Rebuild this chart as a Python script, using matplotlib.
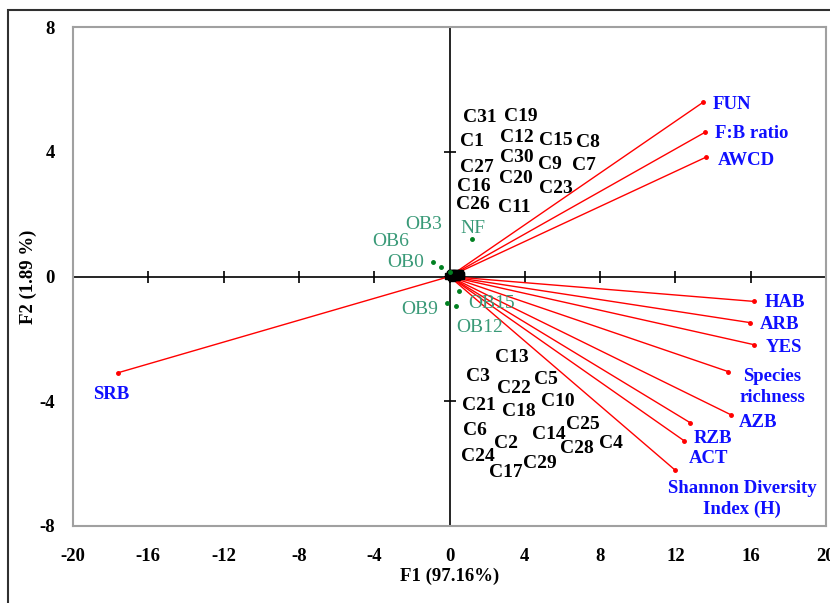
import matplotlib
matplotlib.use("Agg")
import matplotlib.pyplot as plt
from matplotlib.patches import Rectangle

plt.rcParams['font.family'] = ['Liberation Serif', 'DejaVu Serif']

# ---- variable vectors (loadings) ----
var_names = ["FUN", "F:B ratio", "AWCD", "HAB", "ARB", "YES", "Species\nrichness",
             "AZB", "RZB", "ACT", "Shannon Diversity\nIndex (H)", "SRB"]
var_x = [13.48, 13.59, 13.64, 16.20, 15.98, 16.20, 14.81, 14.97, 12.79, 12.47, 11.99, -17.63]
var_y = [5.59, 4.63, 3.83, -0.80, -1.48, -2.19, -3.05, -4.44, -4.69, -5.27, -6.21, -3.09]
var_lab_x = [13.96, 14.12, 14.23, 16.73, 16.46, 16.78, 17.15, 15.35, 12.95, 12.69, 15.56, -18.96]
var_lab_y = [5.53, 4.57, 3.73, -0.84, -1.54, -2.28, -3.55, -4.69, -5.18, -5.85, -7.14, -3.79]
var_ha = ["left", "left", "left", "left", "left", "left", "center",
          "left", "left", "left", "center", "left"]

# ---- sample (C) labels ----
c_names = ["C31", "C19", "C1", "C12", "C15", "C8", "C27", "C30", "C9", "C7",
           "C16", "C20", "C23", "C26", "C11", "C13", "C3", "C22", "C5", "C21",
           "C18", "C10", "C6", "C25", "C14", "C2", "C28", "C4", "C24", "C29", "C17"]
c_lab_x = [1.62, 3.80, 1.20, 3.59, 5.66, 7.37, 1.46, 3.59, 5.35, 7.15,
           1.30, 3.54, 5.66, 1.25, 3.43, 3.32, 1.52, 3.43, 5.13, 1.57,
           3.70, 5.77, 1.36, 7.10, 5.29, 3.01, 6.78, 8.59, 1.52, 4.81, 3.01]
c_lab_y = [5.11, 5.14, 4.34, 4.47, 4.37, 4.31, 3.50, 3.83, 3.60, 3.57,
           2.89, 3.15, 2.83, 2.32, 2.22, -2.60, -3.22, -3.60, -3.31, -4.15,
           -4.34, -4.02, -4.95, -4.76, -5.08, -5.34, -5.50, -5.34, -5.76, -5.98, -6.30]
# sample scores (all clustered near origin)
c_x = [0.05, 0.15, 0.25, 0.35, 0.45, 0.55, 0.10, 0.20, 0.30, 0.40, 0.50,
       0.60, 0.00, -0.10, 0.12, 0.22, 0.32, 0.42, 0.52, 0.08, 0.18, 0.28,
       0.38, 0.48, 0.58, 0.14, 0.24, 0.34, 0.44, 0.02, 0.62]
c_y = [0.05, 0.08, 0.02, 0.10, 0.06, 0.12, -0.02, 0.00, 0.04, 0.07, 0.09,
       0.03, 0.06, 0.01, 0.11, 0.05, -0.03, 0.02, 0.08, 0.10, 0.12, 0.04,
       0.00, 0.06, 0.09, -0.04, 0.07, 0.03, 0.11, 0.09, 0.05]

# ---- OB / NF observations ----
ob_names = ["OB3", "NF", "OB6", "OB0", "OB9", "OB15", "OB12"]
ob_x = [0.03, 1.20, -0.88, -0.45, -0.13, 0.51, 0.35]
ob_y = [0.16, 1.19, 0.45, 0.29, -0.84, -0.45, -0.96]
ob_lab_x = [-1.36, 1.25, -3.11, -2.31, -1.57, 2.21, 1.62]
ob_lab_y = [1.67, 1.54, 1.13, 0.45, -1.06, -0.87, -1.64]

ticks = [-20, -16, -12, -8, -4, 0, 4, 8, 12, 16, 20]
yticks = [-8, -4, 0, 4, 8]

fig = plt.figure(figsize=(8.30, 6.03), dpi=100)
ax = fig.add_axes([73 / 830, 1 - 526 / 603, (826 - 73) / 830, (526 - 27) / 603])
ax.set_xlim(-20, 20)
ax.set_ylim(-8, 8)

# outer chart frame
fig.patches.append(Rectangle((8 / 830, -0.05), 1.0, 1 - 10 / 603 + 0.05,
                             transform=fig.transFigure, fill=False,
                             edgecolor='#303030', lw=1.5))

for s in ax.spines.values():
    s.set_color('#a0a0a0')
    s.set_linewidth(1.5)

ax.set_xticks(ticks)
ax.set_xticklabels([str(t) for t in ticks], fontsize=13.5, fontweight='bold')
ax.set_yticks(yticks)
ax.set_yticklabels([str(t) for t in yticks], fontsize=13.5, fontweight='bold')
ax.tick_params(axis='x', length=0, pad=16)
ax.tick_params(axis='y', length=0, pad=13)

# central axes
ax.axhline(0, color='black', lw=1.2, zorder=1)
ax.axvline(0, color='black', lw=1.2, zorder=1)
ax.plot(ticks, [0] * len(ticks), ls='none', marker='|', ms=9, mew=1.2, color='black', zorder=1)
ax.plot([0] * len(yticks), yticks, ls='none', marker='_', ms=9, mew=1.2, color='black', zorder=1)

# vectors
for x, y in zip(var_x, var_y):
    ax.plot([0, x], [0, y], color='red', lw=1.0, zorder=2)
ax.plot(var_x, var_y, ls='none', marker='o', ms=2.5, color='red', zorder=3)
for n, lx, ly, ha in zip(var_names, var_lab_x, var_lab_y, var_ha):
    ax.text(lx, ly, n, color='#1010ff', fontsize=13.5, fontweight='bold',
            ha=ha, va='center', linespacing=1.3)

# sample points and labels
ax.plot(c_x, c_y, ls='none', marker='s', ms=4, color='black', zorder=4)
for n, lx, ly in zip(c_names, c_lab_x, c_lab_y):
    ax.text(lx, ly, n, color='black', fontsize=14, fontweight='bold',
            ha='center', va='center')

# OB / NF
ax.plot(ob_x, ob_y, ls='none', marker='o', ms=2.5, color='#008020', zorder=4)
for n, lx, ly in zip(ob_names, ob_lab_x, ob_lab_y):
    ax.text(lx, ly, n, color='#3a9a78', fontsize=14, ha='center', va='center')

ax.set_xlabel("F1 (97.16%)", fontsize=13.5, fontweight='bold', labelpad=2)
ax.set_ylabel("F2 (1.89 %)", fontsize=13.5, fontweight='bold', labelpad=2)

fig.savefig("out.png", dpi=100)
